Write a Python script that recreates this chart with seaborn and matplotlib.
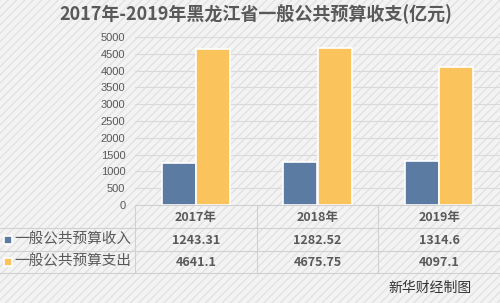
import matplotlib
matplotlib.use('Agg')
import matplotlib.pyplot as plt
import seaborn as sns
import pandas as pd
from matplotlib.patches import Rectangle
from matplotlib.transforms import blended_transform_factory
from matplotlib.lines import Line2D

title = '2017年-2019年黑龙江省一般公共预算收支(亿元)'
years = ['2017年', '2018年', '2019年']
series = ['一般公共预算收入', '一般公共预算支出']
income = [1243.31, 1282.52, 1314.6]
expense = [4641.1, 4675.75, 4097.1]
income_labels = ['1243.31', '1282.52', '1314.6']
expense_labels = ['4641.1', '4675.75', '4097.1']
yticks = list(range(0, 5001, 500))
colors = ['#5b7ba3', '#fbc35c']
source = '新华财经制图'

sns.set_theme(style='white')
plt.rcParams['font.family'] = ['Noto Sans CJK SC', 'DejaVu Sans']
plt.rcParams['hatch.linewidth'] = 1.0

df = pd.DataFrame({'year': years * 2,
                   'series': [series[0]] * 3 + [series[1]] * 3,
                   'value': income + expense})

W, H = 500, 303
fig = plt.figure(figsize=(W / 100, H / 100), dpi=100)
fig.patch.set_facecolor('#f3f3f3')
bg = Rectangle((0, 0), 1, 1, transform=fig.transFigure, facecolor='#f3f3f3',
               edgecolor='#e2e2e2', hatch='////', lw=0, zorder=-10)
fig.patches.append(bg)

def fy(y):
    return 1 - y / H

ax = fig.add_axes([135 / W, fy(205), 1 - 135 / W, (205 - 37) / H])
ax.set_facecolor('none')
sns.barplot(data=df, x='year', y='value', hue='series', palette=colors,
            width=0.56, edgecolor='white', linewidth=1.2, ax=ax, legend=False,
            saturation=1)
ax.set_ylim(0, 5000)
ax.set_xlim(-0.5, 2.5)
ax.set_yticks(yticks)
ax.set_yticklabels([str(t) for t in yticks], color='#595959', fontsize=8,
                   family=['Liberation Sans', 'DejaVu Sans'])
ax.yaxis.grid(True, color='#d9d9d9', lw=0.8)
ax.set_axisbelow(True)
ax.set_xticks([])
ax.set_xlabel('')
ax.set_ylabel('')
for s in ax.spines.values():
    s.set_visible(False)
ax.tick_params(axis='y', length=0, pad=7)

fig.text(256 / W, fy(14), title, ha='center', va='center', fontsize=13,
         fontweight='bold', color='#595959')

tr = blended_transform_factory(ax.transData, fig.transFigure)
gc = '#d0d0d0'
# horizontal table lines
fig.add_artist(Line2D([135 / W, 1], [fy(205), fy(205)], color=gc, lw=0.8, transform=fig.transFigure))
for y in [228, 251, 273]:
    fig.add_artist(Line2D([0, 1], [fy(y), fy(y)], color=gc, lw=0.8, transform=fig.transFigure))
for xb in [-0.5, 0.5, 1.5]:
    fig.add_artist(Line2D([xb, xb], [fy(205), fy(273)], color=gc, lw=0.8, transform=tr))

tc = '#595959'
for i, yr in enumerate(years):
    fig.text(i, fy(217), yr, transform=tr, ha='center', va='center',
             fontsize=9, fontweight='bold', color=tc)
    fig.text(i, fy(240), income_labels[i], transform=tr, ha='center', va='center',
             fontsize=9, fontweight='bold', color=tc)
    fig.text(i, fy(262), expense_labels[i], transform=tr, ha='center', va='center',
             fontsize=9, fontweight='bold', color=tc)

for y, name, c in [(240, series[0], colors[0]), (262, series[1], colors[1])]:
    fig.patches.append(Rectangle((4 / W, fy(y + 4)), 8 / W, 8 / H, transform=fig.transFigure,
                                 facecolor=c, edgecolor='white', lw=1.2))
    fig.text(14 / W, fy(y), name, ha='left', va='center', fontsize=10.5, color=tc)

fig.text(430 / W, fy(288), source, ha='center', va='center', fontsize=10, color='#333333')

fig.savefig('out.png', dpi=100, facecolor=fig.get_facecolor())
